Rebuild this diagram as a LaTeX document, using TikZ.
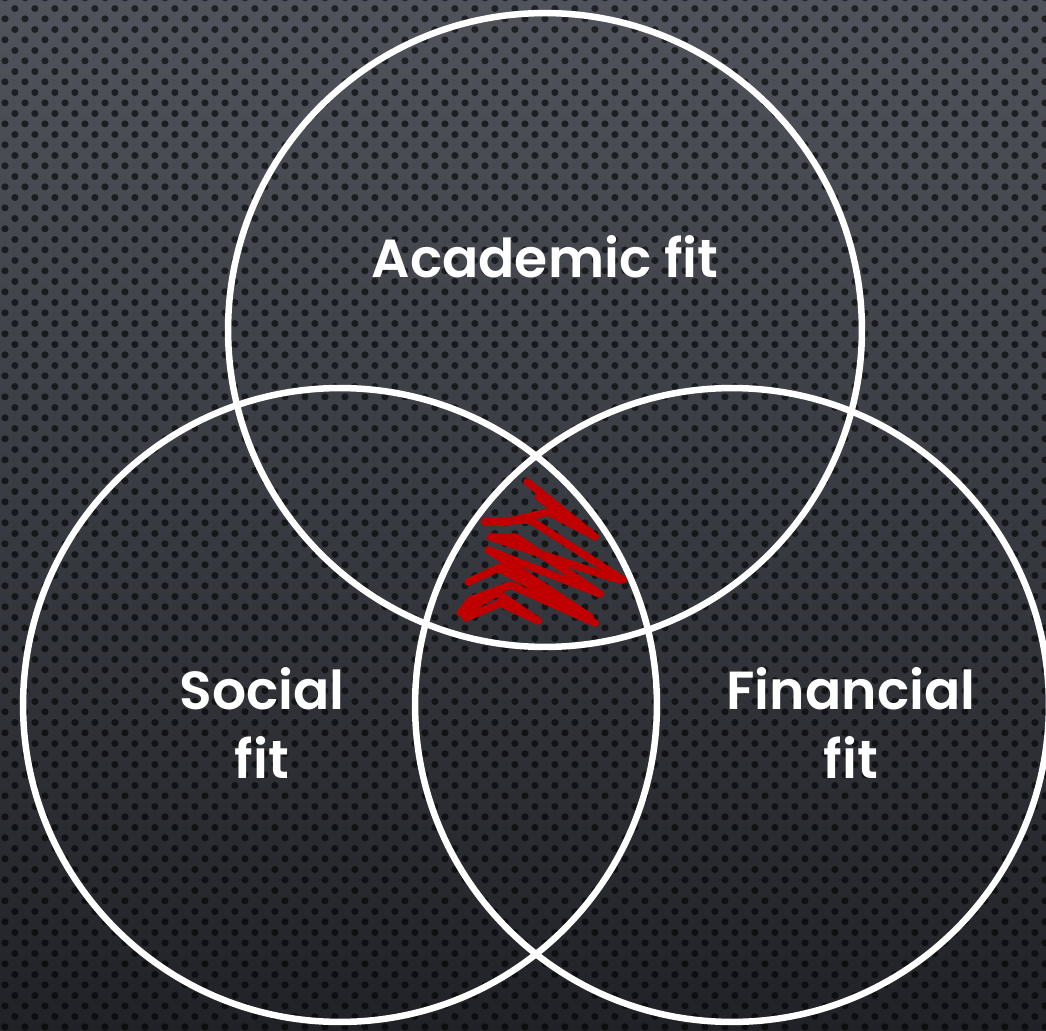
\documentclass[tikz,border=0pt]{standalone}
\usepackage{fontspec}
\setmainfont{Poppins}[BoldFont={Poppins SemiBold}]
\usetikzlibrary{patterns.meta}
\definecolor{bgtop}{RGB}{80,83,91}
\definecolor{bgbottom}{RGB}{32,34,39}
\definecolor{scribblered}{RGB}{192,0,0}

% perforated metal texture: staggered dark dots
\tikzdeclarepattern{
  name=perforated,
  type=uncolored,
  bottom left={(0pt,0pt)},
  top right={(11.34pt,12.13pt)},
  tile size={(11.34pt,12.13pt)},
  code={
    \fill (2.835pt,3.03pt) circle (2.05pt);
    \fill (8.505pt,9.095pt) circle (2.05pt);
  }
}

\tikzset{
  ring/.style={draw=white, line width=0.13cm},
  fitlabel/.style={text=white, font=\bfseries\fontsize{30.5}{39.7}\selectfont,
    align=center, inner sep=0pt},
}

\begin{document}
\begin{tikzpicture}[x=0.02cm, y=-0.02cm]
  % picture area in pixels of the slide
  \useasboundingbox (0,0) rectangle (1046,1031);
  \def\rad{6.34cm}

  % background
  \shade[top color=bgtop, bottom color=bgbottom] (0,0) rectangle (1046,1031);
  \fill[pattern=perforated, pattern color=black, fill opacity=0.6] (0,0) rectangle (1046,1031);

  % the three circles
  \draw[ring] (545,330) circle (\rad);
  \draw[ring] (340,705) circle (\rad);
  \draw[ring] (732,705) circle (\rad);

  % labels
  \node[fitlabel] (academic) at (545,257) {Academic fit};
  \node[fitlabel] (social) at (262,723) {Social\\fit};
  \node[fitlabel] (financial) at (851,723) {Financial\\fit};

  % red scribble in the middle (hand drawn look)
  \draw[scribblered, line width=0.15cm, line join=round, line cap=round]
    (527,482) -- (595,537) -- (538,497) -- (590,534) -- (548,512)
    -- (505,522) -- (484,522) -- (530,520) -- (623,580) -- (612,578)
    -- (490,537) -- (515,537) -- (600,594) -- (488,550) -- (590,617)
    -- (498,568) -- (468,582) -- (500,567) -- (595,623) -- (510,585)
    -- (470,600) -- (460,613) -- (497,593) -- (538,621) -- (500,603)
    -- (465,618);
\end{tikzpicture}
\end{document}
